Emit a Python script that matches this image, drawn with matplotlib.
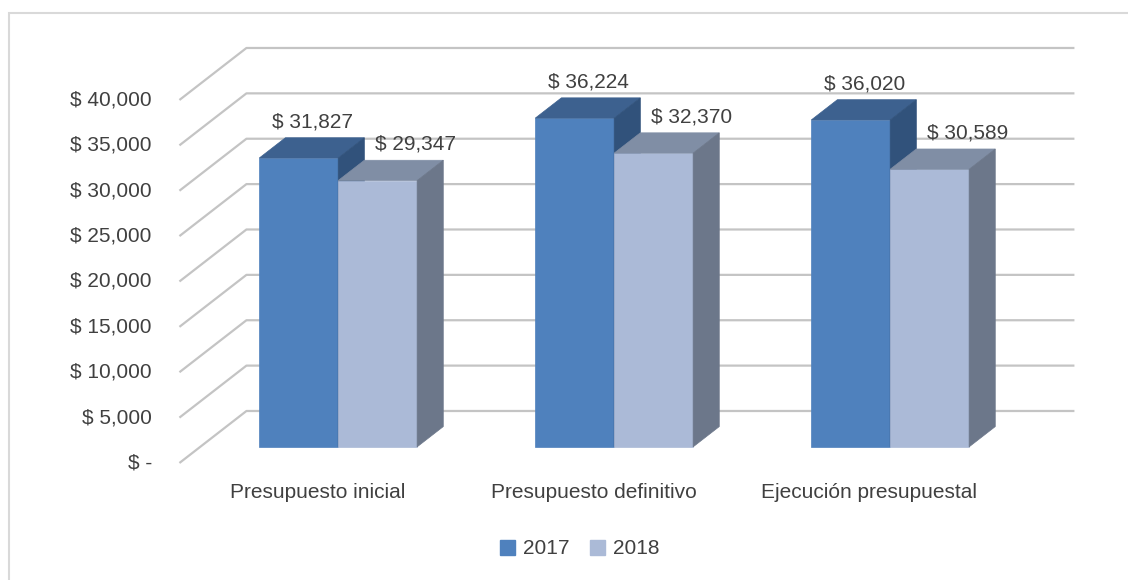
import numpy as np
import matplotlib.pyplot as plt
from matplotlib.patches import Polygon, Rectangle

plt.rcParams['font.family'] = ['Liberation Sans', 'DejaVu Sans']

# datos
categorias = ['Presupuesto inicial', 'Presupuesto definitivo', 'Ejecución presupuestal']
series = ['2017', '2018']
valores_2017 = [31827, 36224, 36020]
valores_2018 = [29347, 32370, 30589]
ticks = [0, 5000, 10000, 15000, 20000, 25000, 30000, 35000, 40000]
tick_labels = ['$ -', '$ 5,000', '$ 10,000', '$ 15,000', '$ 20,000',
               '$ 25,000', '$ 30,000', '$ 35,000', '$ 40,000']

# colores (frente, arriba, lado)
col_2017 = ('#4f81bd', '#3d618f', '#31527b')
col_2018 = ('#abbad7', '#808ea5', '#6c778a')
texto = '#404040'
grid_col = '#c4c4c4'
fs = 15

# profundidad falsa 3D
DX = 0.2428     # desplazamiento x (categorias) por unidad de profundidad
DY = 5730.0     # desplazamiento y (valor) por unidad de profundidad
d0, d1 = 0.31, 0.70   # profundidad de las barras
ancho = 0.286


def proj(x, v, d):
    return (x + d * DX, v + d * DY)


fig = plt.figure(figsize=(11.28, 5.8), dpi=100)
ax = fig.add_axes([0.1346, 0.1548, 0.8319, 0.7667])
ax.set_xlim(-0.6, 2.8)
ax.set_ylim(-3000, 46000)
ax.axis('off')

# borde del area del grafico
fig.patches.append(Rectangle((9 / 1128, -0.1), 1.2, 1 - 13 / 580 + 0.1,
                             transform=fig.transFigure, fill=False,
                             edgecolor='#d9d9d9', lw=1.5, zorder=0))

# lineas de cuadricula (piso lateral + pared trasera)
x0, x1 = -0.5, 2.5
for t, lab in zip(ticks, tick_labels):
    a = proj(x0, t, 0)
    b = proj(x0, t, 1)
    c = proj(x1, t, 1)
    ax.plot([a[0], b[0], c[0]], [a[1], b[1], c[1]], color=grid_col, lw=1.6,
            solid_capstyle='butt', zorder=1)
    ax.text(a[0] - 0.1, a[1], lab, ha='right', va='center', fontsize=fs,
            color=texto)


def barra(x, w, v, cols):
    fl = proj(x, 0, d0)
    fr = proj(x + w, 0, d0)
    tr = proj(x + w, v, d0)
    tl = proj(x, v, d0)
    btl = proj(x, v, d1)
    btr = proj(x + w, v, d1)
    bbr = proj(x + w, 0, d1)
    ax.add_patch(Polygon([fl, fr, tr, tl], closed=True, facecolor=cols[0],
                         edgecolor=cols[0], lw=0.5, zorder=3))
    ax.add_patch(Polygon([tl, tr, btr, btl], closed=True, facecolor=cols[1],
                         edgecolor=cols[1], lw=0.5, zorder=3))
    ax.add_patch(Polygon([fr, bbr, btr, tr], closed=True, facecolor=cols[2],
                         edgecolor=cols[2], lw=0.5, zorder=3))
    return proj(x + w / 2, v, d1)


for i, cat in enumerate(categorias):
    p1 = barra(i - ancho, ancho, valores_2017[i], col_2017)
    p2 = barra(i, ancho, valores_2018[i], col_2018)
    ax.annotate(f'$ {valores_2017[i]:,}', p1, xytext=(-12, 16),
                textcoords='offset pixels', ha='center', va='center',
                fontsize=fs, color=texto, zorder=5)
    ax.annotate(f'$ {valores_2018[i]:,}', p2, xytext=(12, 16),
                textcoords='offset pixels', ha='center', va='center',
                fontsize=fs, color=texto, zorder=5)
    ax.text(i, -3300, cat, ha='center', va='center', fontsize=fs, color=texto)

# leyenda
ax.legend(handles=[Rectangle((0, 0), 1, 1, color=col_2017[0]),
                   Rectangle((0, 0), 1, 1, color=col_2018[0])],
          labels=series, loc='center', bbox_to_anchor=(580 / 1128, 1 - 549 / 580),
          bbox_transform=fig.transFigure, ncol=2, frameon=False,
          fontsize=fs, labelcolor=texto, handlelength=0.7, handleheight=0.7,
          handletextpad=0.4, columnspacing=1.0)

fig.savefig('out.png', dpi=100)
